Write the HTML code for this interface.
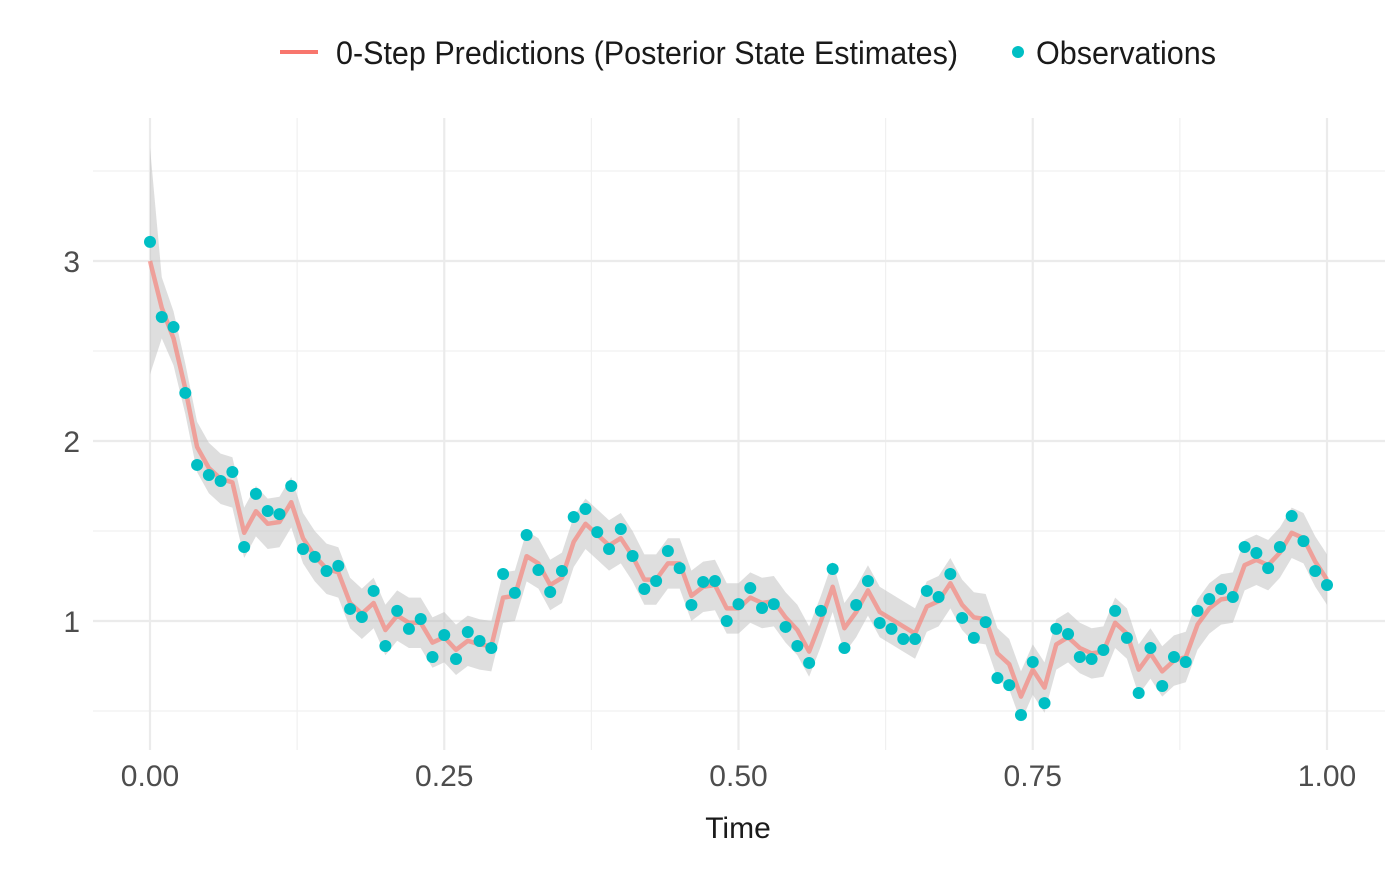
<!DOCTYPE html>
<html><head><meta charset="utf-8"><style>
body{margin:0;background:#fff}
svg text{font-family:"Liberation Sans Narrow","Liberation Sans",sans-serif;fill:#4d4d4d}
</style></head><body>
<svg id="c" width="1400" height="865">
<g id="grid"></g>
<g id="band"></g>
<g id="marks"></g>
<g id="axes"></g>
<g>
<line x1="280" y1="52" x2="318" y2="52" stroke="#f8766d" stroke-width="4"/>
<text x="336" y="64" font-size="32" textLength="622" lengthAdjust="spacingAndGlyphs" style="fill:#1a1a1a">0-Step Predictions (Posterior State Estimates)</text>
<circle cx="1018" cy="52" r="6" fill="#00bfc4"/>
<text x="1036" y="64" font-size="32" textLength="180" lengthAdjust="spacingAndGlyphs" style="fill:#1a1a1a">Observations</text>
</g>
<text x="738" y="838" font-size="30" text-anchor="middle" style="fill:#1a1a1a">Time</text>
</svg>
<script>
const obs=[3.106,2.689,2.633,2.267,1.867,1.811,1.778,1.828,1.411,1.706,1.611,1.594,1.750,1.400,1.356,1.278,1.306,1.067,1.022,1.167,0.861,1.056,0.956,1.011,0.800,0.922,0.789,0.939,0.889,0.850,1.261,1.156,1.478,1.283,1.161,1.278,1.578,1.622,1.494,1.400,1.511,1.361,1.178,1.222,1.389,1.294,1.089,1.217,1.222,1.000,1.094,1.183,1.072,1.094,0.967,0.861,0.767,1.056,1.289,0.850,1.089,1.222,0.989,0.956,0.900,0.900,1.167,1.133,1.261,1.017,0.906,0.994,0.683,0.644,0.478,0.772,0.544,0.956,0.928,0.800,0.789,0.839,1.056,0.906,0.600,0.850,0.639,0.800,0.772,1.056,1.122,1.178,1.133,1.411,1.378,1.294,1.411,1.583,1.444,1.278,1.200];
const est=[3.0,2.74,2.57,2.29,1.967,1.85,1.79,1.77,1.49,1.61,1.54,1.55,1.66,1.46,1.36,1.29,1.27,1.10,1.04,1.10,0.95,1.03,0.99,0.99,0.88,0.91,0.84,0.89,0.87,0.86,1.13,1.14,1.36,1.32,1.20,1.24,1.44,1.54,1.48,1.42,1.46,1.36,1.23,1.23,1.32,1.32,1.14,1.19,1.20,1.07,1.07,1.13,1.10,1.11,1.02,0.95,0.83,1.00,1.19,0.96,1.05,1.17,1.05,1.01,0.97,0.93,1.08,1.11,1.21,1.09,1.02,1.01,0.82,0.76,0.58,0.73,0.63,0.87,0.91,0.85,0.82,0.83,0.99,0.93,0.73,0.82,0.72,0.78,0.80,0.98,1.07,1.12,1.13,1.31,1.34,1.31,1.38,1.49,1.46,1.33,1.23];
const halfWidth=[0.63,0.17,0.15].concat(new Array(98).fill(0.14));
const xTicks=[0,0.25,0.5,0.75,1];
const xTickLabels=["0.00","0.25","0.50","0.75","1.00"];
const yTicks=[1,2,3];
const yTickLabels=["1","2","3"];
const X=v=>150+v*1177, Y=v=>621-(v-1)*180;
const NS="http://www.w3.org/2000/svg";
function mk(t,p,a){const e=document.createElementNS(NS,t);for(const k in a)e.setAttribute(k,a[k]);p.appendChild(e);return e;}
const g=document.getElementById('grid'),b=document.getElementById('band'),m=document.getElementById('marks'),ax=document.getElementById('axes');
[0.5,1.5,2.5,3.5].forEach(v=>{const l=mk('line',g,{x1:93,x2:1385,y1:Y(v),y2:Y(v),stroke:'#f0f0f0','stroke-width':1.2});

});
[0.125,0.375,0.625,0.875].forEach(v=>{const l=mk('line',g,{x1:X(v),x2:X(v),y1:118,y2:750,stroke:'#f0f0f0','stroke-width':1.2});

});
yTicks.forEach((v,i)=>{const l=mk('line',g,{x1:93,x2:1385,y1:Y(v),y2:Y(v),stroke:'#ebebeb','stroke-width':2.2});


const t=mk('text',ax,{x:80,y:Y(v)+11,'font-size':30,'text-anchor':'end'});t.textContent=yTickLabels[i];

});
xTicks.forEach((v,i)=>{const l=mk('line',g,{x1:X(v),x2:X(v),y1:118,y2:750,stroke:'#ebebeb','stroke-width':2.2});


const t=mk('text',ax,{x:X(v),y:786,'font-size':30,'text-anchor':'middle'});t.textContent=xTickLabels[i];

});
const n=est.length, xs=i=>X(i/(n-1));
let up=[],dn=[];
for(let i=0;i<n;i++){up.push(xs(i)+','+Y(est[i]+halfWidth[i]));dn.unshift(xs(i)+','+Y(est[i]-halfWidth[i]));}
const poly=mk('polygon',b,{points:up.concat(dn).join(' '),fill:'#bdbdbd','fill-opacity':0.5});


const pl=mk('polyline',m,{points:est.map((v,i)=>xs(i)+','+Y(v)).join(' '),fill:'none',stroke:'#f8766d','stroke-opacity':0.6,'stroke-width':4.5,'stroke-linejoin':'round'});


obs.forEach((v,i)=>{const c=mk('circle',m,{cx:xs(i),cy:Y(v),r:6,fill:'#00bfc4'});

});
</script>
</body></html>
